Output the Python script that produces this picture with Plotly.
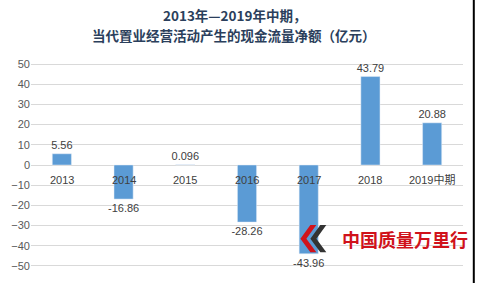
import plotly.graph_objects as go

categories = ["2013", "2014", "2015", "2016", "2017", "2018", "2019中期"]
values = [5.56, -16.86, 0.096, -28.26, -43.96, 43.79, 20.88]
labels = ["5.56", "-16.86", "0.096", "-28.26", "-43.96", "43.79", "20.88"]
y_ticks = [50, 40, 30, 20, 10, 0, -10, -20, -30, -40, -50]

W, H = 477, 283
ML, MR, MT, MB = 30, 14, 63, 11


def px(x, y):
    return (x - ML) / (W - ML - MR), (H - MB - y) / (H - MT - MB)


def chevron(x0, color):
    pts = [(x0 + 10, 229), (x0 + 16, 229), (x0 + 6, 243), (x0 + 16, 257), (x0 + 10, 257), (x0, 243)]
    conv = [px(a, b) for a, b in pts]
    path = "M " + " L ".join(f"{a:.4f},{b:.4f}" for a, b in conv) + " Z"
    return dict(type="path", xref="paper", yref="paper", path=path,
                fillcolor=color, line=dict(width=0), layer="above")


fig = go.Figure()
fig.add_trace(go.Bar(
    x=categories, y=values, text=labels, textposition="outside", constraintext="none",
    textfont=dict(family="Liberation Sans, Arial", size=11, color="#404040"),
    marker=dict(color="#5b9bd5"), cliponaxis=False, width=0.31,
))

for i, c in enumerate(categories):
    fig.add_annotation(x=i, y=0, text=c, showarrow=False, yshift=-15,
                       font=dict(family="Liberation Sans, Noto Sans CJK SC", size=11, color="#404040"))

fig.add_annotation(xref="paper", yref="paper", x=0.47, y=1.0, yshift=36, yanchor="bottom",
                   text="<b>2013年—2019年中期，</b>", showarrow=False,
                   font=dict(family="Noto Sans CJK SC", size=13.5, color="#2b3f5c"))
fig.add_annotation(xref="paper", yref="paper", x=0.47, y=1.0, yshift=16, yanchor="bottom",
                   text="<b>当代置业经营活动产生的现金流量净额（亿元）</b>", showarrow=False,
                   font=dict(family="Noto Sans CJK SC", size=13.5, color="#2b3f5c"))

wx, wy = px(470, 243)
fig.add_annotation(xref="paper", yref="paper", x=wx, y=wy, xanchor="right", yanchor="middle",
                   text="<b>中国质量万里行</b>", showarrow=False,
                   font=dict(family="Noto Sans CJK SC", size=18, color="#d0121b"))

fig.add_shape(chevron(310, "#333333"))
fig.add_shape(chevron(300, "#d0121b"))

fig.add_shape(type="line", xref="paper", yref="paper", x0=1.025, x1=1.025, y0=-0.1, y1=1.4,
              line=dict(color="black", width=2))

fig.update_layout(
    width=W, height=H, margin=dict(l=ML, r=MR, t=MT, b=MB),
    plot_bgcolor="white", paper_bgcolor="white", showlegend=False,
    xaxis=dict(type="category", categoryarray=categories, range=[-0.5, len(categories) - 0.5],
               showticklabels=False, showgrid=False, zeroline=False, showline=False, ticks=""),
    yaxis=dict(range=[-50.5, 50.5], tickvals=y_ticks, showgrid=True, gridcolor="#d9d9d9",
               zeroline=True, zerolinecolor="#d9d9d9", zerolinewidth=1,
               tickfont=dict(family="Liberation Sans, Arial", size=11, color="#595959"),
               ticks="", ticklen=0),
)

fig.write_html("out.html")
